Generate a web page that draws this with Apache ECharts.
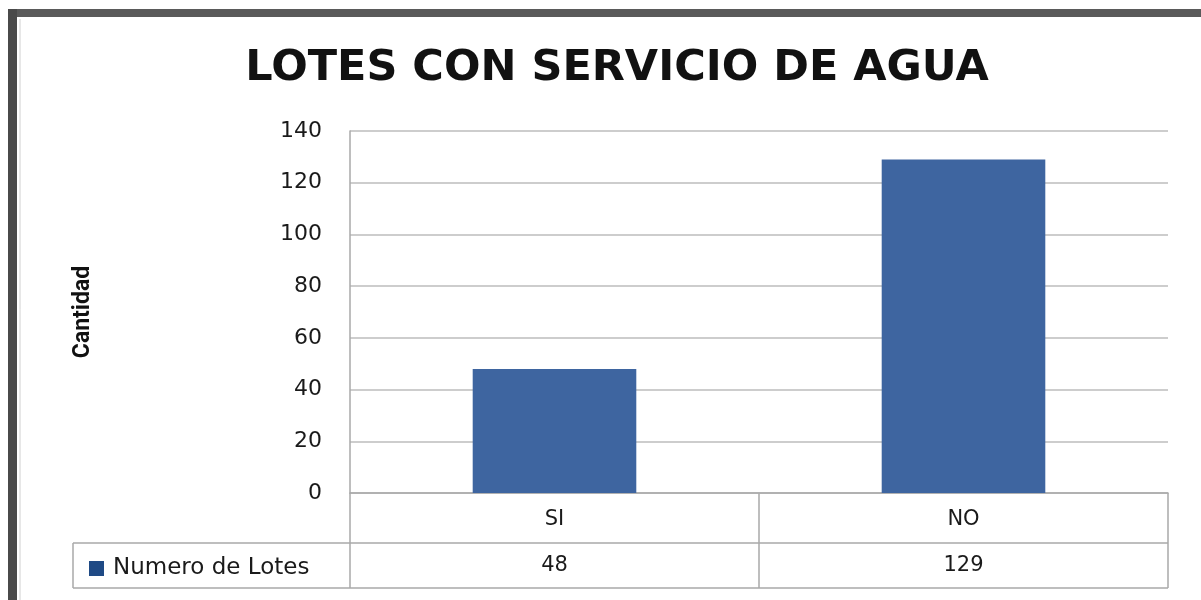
<!DOCTYPE html>
<html>
<head>
<meta charset="utf-8">
<script src="https://cdn.jsdelivr.net/npm/echarts@6/dist/echarts.min.js"></script>
<style>
  html, body { margin: 0; padding: 0; background: #ffffff; }
  #chart { width: 1201px; height: 600px; }
</style>
</head>
<body>
<div id="chart"></div>
<script>
// Chart data
const categories = ['SI', 'NO'];
const numeroDeLotes = [48, 129];
const seriesName = 'Numero de Lotes';
const yTicks = { min: 0, max: 140, interval: 20 };

// Plot area bounds (pixels)
const G = { left: 350, right: 33, top: 131, bottom: 107 };
const W = 1201, H = 600;
const plotL = G.left, plotR = W - G.right, plotB = H - G.bottom;
const rowH1 = 50, rowH2 = 45;
const legendL = 73;
const FONT = 'DejaVu Sans';

const chart = echarts.init(document.getElementById('chart'), null, { renderer: 'canvas' });

const lineStyle = { stroke: '#a8a8a8', lineWidth: 1.5 };
function hline(x1, x2, y) {
  return { type: 'line', shape: { x1: x1, y1: y, x2: x2, y2: y }, style: lineStyle, silent: true };
}
function vline(x, y1, y2) {
  return { type: 'line', shape: { x1: x, y1: y1, x2: x, y2: y2 }, style: lineStyle, silent: true };
}
const midX = (plotL + plotR) / 2;

const option = {
  backgroundColor: '#ffffff',
  animation: false,
  title: {
    text: 'LOTES CON SERVICIO DE AGUA',
    left: 612, top: 42, textAlign: 'center',
    textStyle: { fontFamily: FONT, fontWeight: 'bold', fontSize: 43, color: '#111111' }
  },
  legend: {
    left: 84, top: 552,
    itemWidth: 15, itemHeight: 15, itemGap: 8,
    icon: 'rect',
    data: [{ name: seriesName, itemStyle: { color: '#1f4a85' } }],
    textStyle: { fontFamily: FONT, fontSize: 23, color: '#1a1a1a', padding: [0, 0, 0, 4] }
  },
  grid: { left: G.left, right: G.right, top: G.top, bottom: G.bottom, containLabel: false },
  xAxis: [
    {
      type: 'category', data: categories, position: 'bottom',
      axisLine: { show: true, lineStyle: { color: '#a8a8a8', width: 1.5 } },
      axisTick: { show: false },
      axisLabel: { margin: 16, fontFamily: FONT, fontSize: 21, color: '#1a1a1a' }
    },
    {
      type: 'category', data: numeroDeLotes.map(String), position: 'bottom', offset: rowH1,
      axisLine: { show: false }, axisTick: { show: false },
      axisLabel: { margin: 12, fontFamily: FONT, fontSize: 21, color: '#1a1a1a' }
    }
  ],
  yAxis: {
    type: 'value', min: yTicks.min, max: yTicks.max, interval: yTicks.interval,
    name: 'Cantidad', nameLocation: 'middle', nameGap: 255, nameRotate: 90,
    nameTextStyle: { fontFamily: 'Roboto', fontWeight: 'bold', fontSize: 23, color: '#111111' },
    axisLine: { show: true, lineStyle: { color: '#a8a8a8', width: 1.5 } },
    axisTick: { show: false },
    axisLabel: { margin: 28, fontFamily: FONT, fontSize: 22, color: '#1a1a1a' },
    splitLine: { show: true, lineStyle: { color: '#bcbcbc', width: 1.5 } }
  },
  series: [{
    name: seriesName, type: 'bar', xAxisIndex: 0,
    data: numeroDeLotes, barWidth: '40%',
    itemStyle: { color: '#3e65a0' }
  }],
  graphic: [
    // outer frame
    { type: 'rect', shape: { x: 9, y: 9, width: W - 9, height: 8 }, style: { fill: '#5a5a5a' }, silent: true },
    { type: 'rect', shape: { x: 8, y: 9, width: 9, height: H - 9 }, style: { fill: '#4a4a4a' }, silent: true },
    { type: 'line', shape: { x1: 20, y1: 19, x2: 20, y2: H }, style: { stroke: '#d0d0d0', lineWidth: 1 }, silent: true },
    // data table grid
    vline(plotL, plotB, plotB + rowH1 + rowH2),
    vline(midX, plotB, plotB + rowH1 + rowH2),
    vline(plotR, plotB, plotB + rowH1 + rowH2),
    hline(legendL, plotR, plotB + rowH1),
    hline(legendL, plotR, plotB + rowH1 + rowH2),
    vline(legendL, plotB + rowH1, plotB + rowH1 + rowH2)
  ]
};

chart.setOption(option);
</script>
</body>
</html>
